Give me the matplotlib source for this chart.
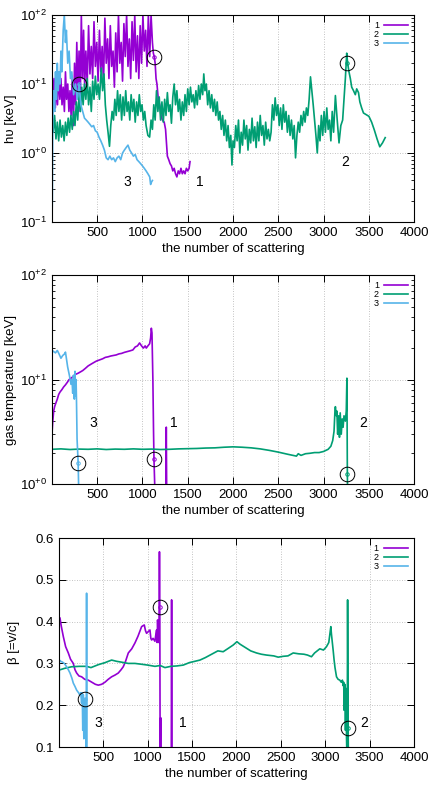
import numpy as np
import matplotlib
matplotlib.use("Agg")
import matplotlib.pyplot as plt
from matplotlib.ticker import LogLocator, NullFormatter

plt.rcParams['font.family'] = ['Liberation Sans', 'DejaVu Sans']
plt.rcParams['mathtext.default'] = 'regular'

c1 = '#9400d3'
c2 = '#009e73'
c3 = '#56b4e9'

# ---- panel 1: photon energy h nu [keV] ----
hv1_x = [0, 12, 25, 38, 50, 62, 75, 88, 100, 112, 125, 138, 150, 162, 175, 188, 200, 212, 225, 238,
         250, 262, 275, 288, 300, 312, 325, 338, 350, 362, 375, 390, 405, 420, 435, 450, 465, 480, 495, 510,
         525, 540, 555, 570, 585, 600, 615, 630, 645, 660, 675, 690, 705, 720, 735, 750, 765, 780, 795, 810,
         825, 840, 855, 870, 885, 900, 915, 930, 945, 960, 975, 990, 1005, 1020, 1035, 1050, 1065, 1080, 1095, 1110,
         1120, 1130, 1140, 1150, 1160, 1175, 1190, 1205, 1220, 1240, 1255, 1265, 1275, 1290, 1305, 1320, 1335, 1350,
         1365, 1380, 1395, 1410, 1425, 1440, 1455, 1470, 1485, 1500, 1515, 1525]
hv1_y = [18, 6, 12, 4.5, 10, 5, 14, 6, 12, 5, 9, 4, 15, 6, 10, 4, 8, 3.5, 12, 2.5,
         20, 5, 40, 7, 30, 4, 100, 12, 60, 9, 30, 10, 70, 14, 35, 12, 80, 18, 40, 11,
         60, 15, 35, 10, 90, 20, 45, 12, 70, 18, 30, 9, 55, 15, 100, 20, 40, 11, 75, 25,
         100, 18, 45, 12, 80, 22, 100, 15, 50, 12, 70, 20, 100, 30, 60, 18, 100, 25, 100, 40,
         28, 25, 20, 12, 10, 6, 5, 3.5, 3.0, 2.8, 2.2, 1.4, 0.9, 0.8, 0.7, 0.65, 0.55, 0.6,
         0.5, 0.45, 0.55, 0.5, 0.6, 0.5, 0.55, 0.5, 0.6, 0.55, 0.6, 0.75]

hv2_x = [0, 15, 30, 45, 60, 75, 90, 105, 120, 135, 150, 165, 180, 195, 210, 225, 240, 255, 270, 285,
         300, 315, 330, 345, 360, 375, 390, 405, 420, 435, 450, 465, 480, 495, 510, 525, 545, 560, 575, 590,
         605, 620, 636, 650, 665, 680, 695, 710, 725, 740, 755, 770, 785, 800, 815, 830, 845, 860, 875, 890,
         905, 920, 935, 950, 965, 980, 995, 1010, 1025, 1040, 1060, 1079, 1095, 1110, 1125, 1140, 1155, 1170, 1185, 1200,
         1215, 1230, 1245, 1260, 1275, 1290, 1305, 1320, 1335, 1350, 1365, 1380, 1395, 1410, 1425, 1440, 1455, 1470, 1485, 1500,
         1515, 1530, 1545, 1560, 1575, 1590, 1605, 1620, 1635, 1650, 1665, 1677, 1690, 1705, 1720, 1735, 1750, 1765, 1780, 1795,
         1810, 1825, 1840, 1855, 1870, 1885, 1900, 1915, 1930, 1945, 1960, 1975, 1988, 2000, 2015, 2030, 2045, 2060, 2075, 2090,
         2105, 2120, 2135, 2150, 2165, 2180, 2195, 2210, 2225, 2240, 2255, 2270, 2285, 2300, 2315, 2330, 2345, 2360, 2375, 2390,
         2405, 2420, 2435, 2450, 2465, 2480, 2495, 2510, 2525, 2540, 2555, 2570, 2585, 2600, 2615, 2630, 2645, 2660, 2675, 2690,
         2705, 2720, 2735, 2750, 2765, 2780, 2795, 2810, 2825, 2840, 2855, 2870, 2885, 2900, 2915, 2930, 2945, 2960, 2975, 2990,
         3005, 3020, 3035, 3050, 3065, 3080, 3095, 3110, 3130, 3150, 3170, 3190, 3210, 3225, 3240, 3255, 3265, 3280, 3295, 3310,
         3330, 3350, 3365, 3385, 3400, 3420, 3440, 3470, 3500, 3530, 3560, 3590, 3620, 3650, 3680]
hv2_y = [4.5, 2.0, 3.5, 1.6, 2.8, 1.5, 3.0, 1.7, 2.5, 1.5, 2.8, 1.8, 3.2, 2.0, 3.5, 2.2, 4.0, 2.5, 5.5, 3.0,
         7.0, 4.0, 9.0, 5.0, 10, 6.0, 12, 5.0, 9.0, 4.0, 11, 6.0, 13, 7.0, 10, 6.0, 17, 8.0, 14, 5.0,
         3.0, 2.0, 1.25, 2.5, 4.0, 3.0, 6.0, 3.5, 8.0, 4.0, 7.0, 3.0, 6.5, 3.5, 8.0, 4.0, 5.5, 3.0, 7.0, 4.0,
         6.0, 2.8, 5.5, 3.5, 7.0, 4.0, 5.0, 3.0, 4.0, 2.5, 1.8, 1.7, 3.0, 2.2, 5.0, 3.0, 8.0, 4.0, 6.5, 3.0,
         5.5, 2.8, 6.0, 3.5, 7.5, 4.0, 5.0, 2.7, 6.5, 10, 5.0, 8.0, 4.0, 6.0, 3.0, 5.5, 3.5, 7.0, 4.0, 8.5,
         5.0, 9.0, 5.5, 7.0, 4.5, 8.0, 5.0, 9.5, 6.0, 10, 7.0, 14, 8.0, 10, 5.0, 8.0, 4.5, 7.0, 4.0, 6.0,
         3.5, 5.5, 3.0, 4.0, 2.2, 3.5, 1.8, 3.0, 1.5, 2.5, 1.2, 1.8, 0.67, 1.5, 1.2, 2.5, 1.5, 3.0, 1.0, 2.0,
         1.3, 3.0, 1.6, 2.5, 1.1, 2.2, 1.4, 3.2, 1.5, 2.4, 1.2, 2.8, 1.5, 3.5, 1.8, 2.5, 1.3, 2.8, 1.6, 2.2,
         1.5, 2.0, 5.0, 3.0, 6.3, 3.5, 5.0, 2.5, 4.5, 2.2, 5.0, 2.8, 4.0, 2.0, 3.5, 1.8, 3.0, 1.6, 2.5, 0.85,
         1.8, 2.8, 2.0, 3.5, 2.5, 4.0, 2.8, 4.5, 3.5, 6.0, 12.7, 8.0, 5.0, 3.0, 1.8, 1.0, 2.5, 1.5, 3.5, 1.8,
         4.0, 2.0, 4.5, 2.2, 3.0, 1.5, 4.0, 2.0, 6.8, 3.0, 1.4, 2.5, 3.0, 6.0, 12, 28, 20, 15, 12, 9.0,
         8.0, 7.0, 8.5, 7.5, 5.5, 4.5, 3.8, 3.6, 3.4, 2.8, 2.15, 1.6, 1.23, 1.4, 1.67]

hv3_x = [0, 5, 10, 20, 30, 40, 50, 60, 70, 80, 90, 100, 110, 125, 137, 150, 160, 175, 190, 205,
         220, 240, 260, 280, 300, 320, 340, 360, 380, 400, 420, 440, 460, 480, 500, 520, 540, 560, 580, 600,
         620, 640, 660, 680, 700, 720, 740, 760, 780, 800, 820, 840, 860, 880, 900, 920, 940, 960, 980, 1000,
         1020, 1040, 1060, 1080, 1090, 1100, 1110]
hv3_y = [0.1, 0.2, 3, 8, 4, 15, 6, 20, 8, 15, 10, 30, 15, 60, 100, 40, 60, 20, 30, 12,
         15, 7, 10, 6, 10, 5, 4, 3.2, 3, 2.8, 2.6, 2.4, 2.5, 2.1, 2.0, 1.7, 1.5, 1.3, 1.1, 0.85,
         0.8, 0.9, 0.8, 0.85, 0.75, 0.85, 0.9, 0.8, 1.0, 1.1, 1.2, 1.3, 1.1, 1.0, 0.9, 0.95, 0.8, 0.75, 0.7, 0.65,
         0.6, 0.55, 0.5, 0.45, 0.35, 0.38, 0.4]

# ---- panel 2: gas temperature [keV] ----
T1_x = [0, 10, 20, 30, 45, 60, 75, 90, 110, 130, 150, 170, 190, 210, 230, 260, 290, 320, 341, 370,
        400, 430, 460, 490, 525, 560, 590, 620, 650, 680, 710, 740, 770, 800, 830, 860, 894, 920, 945, 968,
        990, 1010, 1030, 1042, 1060, 1079, 1090, 1098, 1105, 1115, 1122, 1127, 1135, 1146, 1200, 1255, 1263, 1270, 1530]
T1_y = [2.9, 4.0, 5.0, 5.5, 6.0, 6.5, 7.2, 7.6, 8.0, 8.5, 8.9, 9.4, 10, 10.3, 10.6, 11.2, 11.5, 11.9, 12.2, 12.8,
        13.5, 14.0, 14.5, 15.0, 15.4, 15.8, 16.3, 16.5, 16.8, 17.0, 17.2, 17.6, 17.8, 18.2, 18.5, 18.8, 19.2, 20.5, 21, 22.4,
        21, 20, 21, 20, 21, 22, 25, 31, 28, 10, 3.3, 1.75, 1.0, 0.5, 0.4, 0.4, 3.5, 0.4, 0.4]

T2_x = [0, 100, 200, 300, 400, 500, 600, 700, 800, 900, 1000, 1100, 1200, 1300, 1400, 1500, 1600, 1700, 1800, 1900,
        2000, 2100, 2200, 2300, 2400, 2500, 2600, 2700, 2720, 2750, 2800, 2850, 2900, 2950, 3000, 3050, 3080, 3100, 3115, 3125,
        3130, 3140, 3146, 3155, 3165, 3175, 3183, 3195, 3205, 3215, 3225, 3240, 3250, 3257, 3262, 3268, 3680]
T2_y = [2.15, 2.17, 2.14, 2.16, 2.15, 2.17, 2.14, 2.16, 2.15, 2.17, 2.15, 2.16, 2.14, 2.15, 2.17, 2.18, 2.19, 2.21, 2.22, 2.25,
        2.27, 2.25, 2.22, 2.17, 2.1, 2.02, 1.93, 1.85, 1.95, 1.88, 1.95, 1.97, 2.0, 2.0, 2.05, 2.15, 2.3, 2.6, 3.2, 5.0,
        5.5, 4.5, 5.0, 3.0, 4.5, 2.8, 4.8, 3.0, 4.2, 3.5, 4.5, 4.0, 5.0, 10.3, 1.25, 0.5, 0.5]

T3_x = [0, 3, 20, 40, 60, 80, 100, 120, 137, 150, 160, 174, 193, 211, 222, 230, 238, 248, 255, 262,
        267, 272, 278, 290, 300, 1110]
T3_y = [0.5, 19, 18.5, 18, 19, 17.5, 16, 17, 17.5, 18.3, 16, 13.2, 11, 9, 10, 7.4, 11, 6.5, 12, 7,
        10, 6, 2.7, 1.6, 0.6, 0.5]

# ---- panel 3: beta = v/c ----
b1_x = [0, 11, 25, 49, 75, 105, 130, 161, 180, 199, 225, 255, 290, 330, 370, 410, 443, 480, 518, 555,
        593, 630, 668, 700, 724, 750, 781, 820, 856, 890, 931, 945, 961, 975, 987, 1005, 1025, 1035, 1044, 1060,
        1081, 1092, 1100, 1106, 1111, 1118, 1126, 1132, 1136, 1140, 1146, 1150, 1265, 1269, 1273, 1530]
b1_y = [0.41, 0.409, 0.39, 0.364, 0.34, 0.325, 0.31, 0.30, 0.285, 0.277, 0.27, 0.268, 0.262, 0.26, 0.255, 0.25, 0.248, 0.25, 0.255, 0.262,
        0.268, 0.272, 0.277, 0.285, 0.292, 0.305, 0.325, 0.335, 0.349, 0.365, 0.388, 0.39, 0.392, 0.378, 0.372, 0.376, 0.38, 0.36, 0.356, 0.36,
        0.353, 0.37, 0.38, 0.35, 0.404, 0.36, 0.35, 0.567, 0.435, 0.05, 0.17, 0.05, 0.05, 0.452, 0.05, 0.05]

b2_x = [0, 60, 142, 230, 311, 360, 443, 520, 593, 650, 705, 780, 856, 930, 1000, 1081, 1140, 1194, 1260, 1330,
        1400, 1470, 1530, 1588, 1650, 1720, 1790, 1850, 1900, 1963, 2005, 2040, 2100, 2160, 2226, 2280, 2338, 2420, 2470, 2526,
        2580, 2639, 2700, 2760, 2800, 2845, 2880, 2939, 2980, 3014, 3040, 3063, 3070, 3081, 3090, 3100, 3110, 3127, 3145, 3164,
        3180, 3194, 3200, 3208, 3213, 3220, 3228, 3235, 3240, 3247, 3252, 3258, 3262, 3680]
b2_y = [0.284, 0.288, 0.292, 0.293, 0.293, 0.29, 0.297, 0.302, 0.308, 0.305, 0.303, 0.3, 0.3, 0.298, 0.296, 0.293, 0.295, 0.29, 0.293, 0.294,
        0.296, 0.302, 0.305, 0.308, 0.314, 0.322, 0.33, 0.328, 0.335, 0.344, 0.352, 0.346, 0.338, 0.33, 0.325, 0.322, 0.32, 0.318, 0.315, 0.317,
        0.318, 0.325, 0.323, 0.322, 0.32, 0.316, 0.325, 0.335, 0.332, 0.34, 0.35, 0.388, 0.37, 0.348, 0.33, 0.308, 0.29, 0.268, 0.262, 0.26,
        0.255, 0.26, 0.247, 0.255, 0.188, 0.25, 0.14, 0.24, 0.12, 0.05, 0.452, 0.145, 0.05, 0.05]

b3_x = [0, 4, 20, 40, 60, 86, 105, 124, 145, 161, 180, 199, 220, 236, 245, 255, 262, 268, 274, 280,
        285, 293, 300, 306, 311, 315, 1110]
b3_y = [0.05, 0.308, 0.305, 0.303, 0.3, 0.292, 0.285, 0.277, 0.265, 0.253, 0.245, 0.236, 0.23, 0.224, 0.23, 0.205, 0.23, 0.14, 0.225, 0.12,
        0.21, 0.215, 0.18, 0.05, 0.468, 0.05, 0.05]

# circled points and curve labels per panel
hv_marks = [(300, 10, c3), (1130, 25, c1), (3260, 20, c2)]
hv_text = [(835, 0.38, '3'), (1634, 0.38, '1'), (3238, 0.74, '2')]
T_marks = [(290, 1.6, c3), (1127, 1.75, c1), (3262, 1.25, c2)]
T_text = [(458, 3.86, '3'), (1344, 3.86, '1'), (3434, 3.86, '2')]
b_marks = [(295, 0.215, c3), (1136, 0.435, c1), (3258, 0.145, c2)]
b_text = [(443, 0.158, '3'), (1393, 0.158, '1'), (3434, 0.158, '2')]

xticks = [500, 1000, 1500, 2000, 2500, 3000, 3500, 4000]

fig = plt.figure(figsize=(4.36, 7.85), dpi=100)
ax1 = fig.add_axes([0.119, 0.7172, 0.831, 0.2637])
ax2 = fig.add_axes([0.119, 0.3834, 0.831, 0.2662])
ax3 = fig.add_axes([0.1353, 0.0484, 0.8142, 0.2662])


def style(ax, logy):
    ax.set_xlim(0, 4000)
    ax.set_xticks(xticks)
    ax.tick_params(which='both', direction='in', top=True, right=True, labelsize=9.5)
    ax.tick_params(which='major', length=5, width=0.7)
    ax.tick_params(which='minor', length=2.5, width=0.6)
    ax.tick_params(axis='x', which='minor', length=0)
    ax.grid(True, which='major', color='#b0b0b0', linestyle=(0, (1, 2)), linewidth=0.6)
    for s in ax.spines.values():
        s.set_linewidth(0.8)
    if logy:
        ax.set_yscale('log')
        ax.yaxis.set_minor_locator(LogLocator(base=10, subs=np.arange(2, 10)))
        ax.yaxis.set_minor_formatter(NullFormatter())
    ax.set_xlabel('the number of scattering', fontsize=9.5, labelpad=3)


def marks(ax, pts, txt):
    for x, y, c in pts:
        ax.plot([x], [y], 'o', ms=10.5, mfc='none', mec='black', mew=0.7, zorder=5)
        ax.plot([x], [y], 'o', ms=2.5, mfc='none', mec=c, mew=0.7, zorder=5)
    for x, y, t in txt:
        ax.text(x, y, t, fontsize=10, ha='center', va='center')


def legend(ax):
    ax.legend(loc='upper right', frameon=False, markerfirst=False, fontsize=6.5,
              handlelength=2.6, labelspacing=0.0, borderaxespad=0.3, handletextpad=0.6)


lw = 1.2

# panel 1
ax1.plot(hv1_x, hv1_y, color=c1, lw=lw, label='1')
ax1.plot(hv2_x, hv2_y, color=c2, lw=lw, label='2')
ax1.plot(hv3_x, hv3_y, color=c3, lw=lw, label='3')
style(ax1, True)
ax1.set_ylim(0.1, 100)
ax1.set_yticks([0.1, 1, 10, 100])
ax1.set_yticklabels(['$10^{-1}$', '$10^{+0}$', '$10^{+1}$', '$10^{+2}$'])
ax1.set_ylabel('hυ [keV]', fontsize=9.5)
ax1.yaxis.set_label_coords(-0.097, 0.5)
marks(ax1, hv_marks, hv_text)
legend(ax1)

# panel 2
ax2.plot(T1_x, T1_y, color=c1, lw=lw, label='1')
ax2.plot(T2_x, T2_y, color=c2, lw=lw, label='2')
ax2.plot(T3_x, T3_y, color=c3, lw=lw, label='3')
style(ax2, True)
ax2.set_ylim(1, 100)
ax2.set_yticks([1, 10, 100])
ax2.set_yticklabels(['$10^{+0}$', '$10^{+1}$', '$10^{+2}$'])
ax2.set_ylabel('gas temperature [keV]', fontsize=9.5)
ax2.yaxis.set_label_coords(-0.097, 0.5)
marks(ax2, T_marks, T_text)
legend(ax2)

# panel 3
ax3.plot(b1_x, b1_y, color=c1, lw=lw, label='1')
ax3.plot(b2_x, b2_y, color=c2, lw=lw, label='2')
ax3.plot(b3_x, b3_y, color=c3, lw=lw, label='3')
style(ax3, False)
ax3.set_ylim(0.1, 0.6)
ax3.set_yticks([0.1, 0.2, 0.3, 0.4, 0.5, 0.6])
ax3.set_yticklabels(['0.1', '0.2', '0.3', '0.4', '0.5', '0.6'])
ax3.set_ylabel('β [=v/c]', fontsize=9.5)
ax3.yaxis.set_label_coords(-0.11, 0.5)
marks(ax3, b_marks, b_text)
legend(ax3)

fig.savefig('out.png', dpi=100)
